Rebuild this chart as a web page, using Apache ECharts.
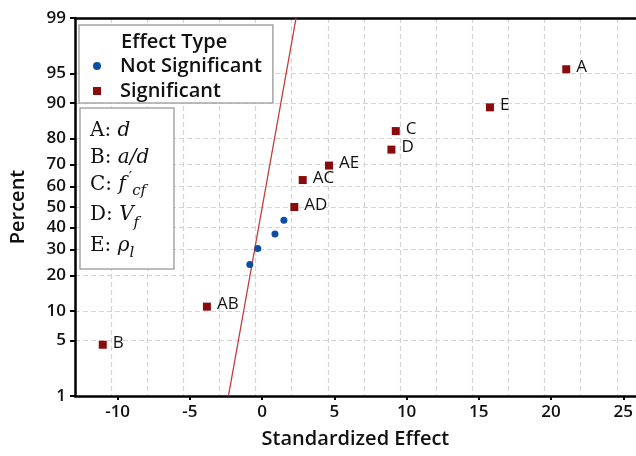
<!DOCTYPE html>
<html><head><meta charset="utf-8">
<script src="https://cdn.jsdelivr.net/npm/echarts@6/dist/echarts.min.js"></script>
<style>html,body{margin:0;padding:0;background:#fff}#c{width:636px;height:456px}</style>
</head><body><div id="c"></div>
<script>
// ---- data ----
const xTicks = [-10, -5, 0, 5, 10, 15, 20, 25];
const yTicks = [1, 5, 10, 20, 30, 40, 50, 60, 70, 80, 90, 95, 99];
const sigLabels = ['B', 'AB', 'AD', 'AC', 'AE', 'D', 'C', 'E', 'A'];
const sigEffect = [-11.03, -3.82, 2.23, 2.81, 4.63, 8.95, 9.25, 15.77, 21.05];
const sigPercent = [4.5, 11.0, 50.0, 63.0, 69.5, 76.0, 82.5, 89.0, 95.5];
const nsEffect = [-0.85, -0.30, 0.89, 1.51];
const nsPercent = [24.0, 30.5, 37.0, 43.5];
const refEffect = [-2.33, 2.35];
const refPercent = [1, 99];

// normal probability scale transform (inverse normal CDF, Acklam)
function probit(p) {
  const a = [-3.969683028665376e+01, 2.209460984245205e+02, -2.759285104469687e+02, 1.383577518672690e+02, -3.066479806614716e+01, 2.506628277459239e+00];
  const b = [-5.447609879822406e+01, 1.615858368580409e+02, -1.556989798598866e+02, 6.680131188771972e+01, -1.328068155288572e+01];
  const c = [-7.784894002430293e-03, -3.223964580411365e-01, -2.400758277161838e+00, -2.549671348593212e+00, 4.374664141464968e+00, 2.938163982698783e+00];
  const d = [7.784695709041462e-03, 3.224671290700398e-01, 2.445134137142996e+00, 3.754408661907416e+00];
  const plow = 0.02425, phigh = 1 - plow;
  let q, r;
  if (p < plow) {
    q = Math.sqrt(-2 * Math.log(p));
    return (((((c[0]*q+c[1])*q+c[2])*q+c[3])*q+c[4])*q+c[5]) / ((((d[0]*q+d[1])*q+d[2])*q+d[3])*q+1);
  } else if (p <= phigh) {
    q = p - 0.5; r = q*q;
    return (((((a[0]*r+a[1])*r+a[2])*r+a[3])*r+a[4])*r+a[5])*q / (((((b[0]*r+b[1])*r+b[2])*r+b[3])*r+b[4])*r+1);
  } else {
    q = Math.sqrt(-2 * Math.log(1 - p));
    return -(((((c[0]*q+c[1])*q+c[2])*q+c[3])*q+c[4])*q+c[5]) / ((((d[0]*q+d[1])*q+d[2])*q+d[3])*q+1);
  }
}
const z = pct => probit(pct / 100);
const yTickZ = yTicks.map(z);

const SANS = "'Open Sans', 'Noto Sans', sans-serif";
const SERIF = "'DejaVu Serif', 'Liberation Serif', serif";
const gridColor = '#d4d4d4';
const TXT = '#111';
const xMin = -12.95, xMax = 25.87;

function rs(size, lh, extra) {
  return Object.assign({ fontFamily: SERIF, fontSize: size, fontWeight: 'normal', lineHeight: lh, fill: TXT }, extra || {});
}

const chart = echarts.init(document.getElementById('c'), null, { renderer: 'canvas' });
chart.setOption({
  animation: false,
  backgroundColor: '#fff',
  grid: { left: 73, right: -3, top: 18, bottom: 60 },
  title: {
    text: 'Effect Type', left: 121, top: 32, padding: 0, z: 10,
    textStyle: { fontFamily: SANS, fontSize: 20, fontWeight: 600, color: TXT }
  },
  graphic: [
    {
      type: 'rect', z: 100,
      shape: { x: 80, y: 108, width: 94, height: 161 },
      style: { fill: '#fff', stroke: '#a6a6a6', lineWidth: 1.5 }
    },
    {
      type: 'text', z: 101, x: 90, y: 117,
      style: {
        text: '{n1|A: }{i1|d}\n{n2|B: }{i2|a/d}\n{n3|C: }{i3|f}{sup|′}{sub3|cf}\n{n4|D: }{i4|V}{sub4|f}\n{n5|E: }{i5|ρ}{sub5|l}',
        fill: TXT, fontFamily: SERIF, fontSize: 20, verticalAlign: 'top', align: 'left',
        rich: {
          n1: rs(20, 28), i1: rs(20, 28, { fontStyle: 'italic' }),
          n2: rs(20, 26), i2: rs(20, 26, { fontStyle: 'italic' }),
          n3: rs(20, 28), i3: rs(20, 28, { fontStyle: 'italic' }),
          sup: rs(15, 18, { verticalAlign: 'top', padding: [0, 0, 0, 3] }),
          sub3: rs(15, 10, { fontStyle: 'italic', verticalAlign: 'bottom' }),
          n4: rs(20, 32), i4: rs(20, 32, { fontStyle: 'italic' }),
          sub4: rs(15, 16, { fontStyle: 'italic', verticalAlign: 'bottom' }),
          n5: rs(20, 30), i5: rs(20, 30, { fontStyle: 'italic' }),
          sub5: rs(15, 22, { fontStyle: 'italic', verticalAlign: 'bottom' })
        }
      }
    }
  ],
  legend: {
    data: ['Not Significant', 'Significant'],
    orient: 'vertical', left: 79, top: 25,
    padding: [31, 11, 2, 14], itemGap: 5, itemWidth: 8, itemHeight: 8,
    backgroundColor: '#fff', borderColor: '#a6a6a6', borderWidth: 1.5, borderRadius: 0,
    selectedMode: false,
    textStyle: { fontFamily: SANS, fontSize: 20, fontWeight: 600, color: TXT, padding: [0, 0, 0, 14] }
  },
  xAxis: [
    {
      type: 'value', position: 'bottom', min: xMin, max: xMax,
      name: 'Standardized Effect', nameLocation: 'middle', nameGap: 33,
      nameTextStyle: { fontFamily: SANS, fontSize: 20, fontWeight: 600, color: TXT },
      axisLine: { show: true, onZero: false, lineStyle: { color: '#000', width: 2.5 } },
      axisTick: { show: true, customValues: xTicks, length: 4, lineStyle: { color: '#000', width: 2 } },
      axisLabel: { customValues: xTicks, margin: 8, fontFamily: SANS, fontSize: 17, fontWeight: 600, color: TXT },
      splitLine: { show: false }
    },
    {
      type: 'value', position: 'top', min: xMin, max: xMax, interval: 2.5,
      axisLine: { show: true, onZero: false, lineStyle: { color: '#000', width: 2.5 } },
      axisTick: { show: false }, axisLabel: { show: false },
      splitLine: { show: true, lineStyle: { color: gridColor, type: [5, 3], width: 1.2 } }
    }
  ],
  yAxis: {
    type: 'value', min: z(1), max: z(99),
    name: 'Percent', nameLocation: 'middle', nameGap: 47,
    nameTextStyle: { fontFamily: SANS, fontSize: 20, fontWeight: 600, color: TXT },
    axisLine: { show: true, onZero: false, lineStyle: { color: '#000', width: 2.5 } },
    axisTick: { show: true, customValues: yTickZ, length: 5, lineStyle: { color: '#000', width: 2 } },
    axisLabel: {
      customValues: yTickZ, margin: 9, fontFamily: SANS, fontSize: 17, fontWeight: 600, color: TXT,
      formatter: v => {
        let best = yTicks[0], bd = Infinity;
        yTicks.forEach(t => { const dd = Math.abs(z(t) - v); if (dd < bd) { bd = dd; best = t; } });
        return String(best);
      }
    },
    splitLine: { show: true, lineStyle: { color: gridColor, type: [5, 3], width: 1.2 } }
  },
  series: [
    {
      name: 'ref', type: 'line', xAxisIndex: 0, silent: true, showSymbol: false, z: 1,
      data: refEffect.map((x, i) => [x, z(refPercent[i])]),
      lineStyle: { color: '#c43a3a', width: 1.3 }
    },
    {
      name: 'Not Significant', type: 'scatter', xAxisIndex: 0,
      symbol: 'circle', symbolSize: 7,
      itemStyle: { color: '#0b4ea5', opacity: 1 },
      data: nsEffect.map((x, i) => [x, z(nsPercent[i])])
    },
    {
      name: 'Significant', type: 'scatter', xAxisIndex: 0,
      symbol: 'rect', symbolSize: 8,
      itemStyle: { color: '#8a0b0b', opacity: 1 },
      label: {
        show: true, position: 'right', distance: 6, offset: [0, -2],
        formatter: p => sigLabels[p.dataIndex],
        fontFamily: SANS, fontSize: 17, color: TXT
      },
      data: sigEffect.map((x, i) => [x, z(sigPercent[i])])
    }
  ]
});
</script>
</body></html>
